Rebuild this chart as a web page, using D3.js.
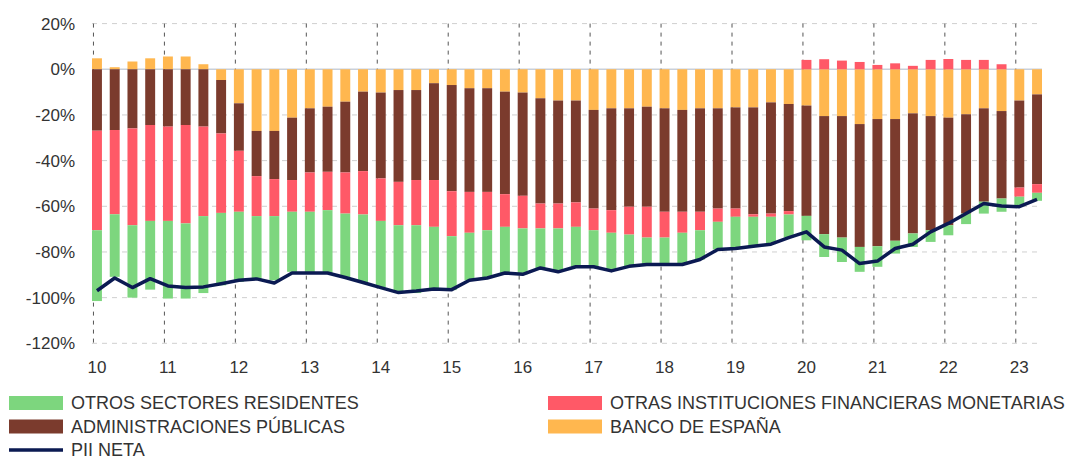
<!DOCTYPE html>
<html>
  <head>
    <meta charset="UTF-8" />
    <title>PII neta por sectores</title>
    <script src="https://d3js.org/d3.v7.min.js"></script>
    <style>
      body { margin: 0; background: #fff; }
      text { font-family: 'Liberation Sans', Arial, sans-serif; fill: #333; }
    </style>
  </head>
  <body>
    <div id="main"></div>
    <script type="text/javascript">
      // quarters 2010 Q1 .. 2023 Q2
      const quarters = d3.range(54).map(i => (10 + Math.floor(i / 4)) + 'Q' + (i % 4 + 1));
      const yearLabels = ['10', '11', '12', '13', '14', '15', '16', '17', '18', '19', '20', '21', '22', '23'];
      const yTicks = [20, 0, -20, -40, -60, -80, -100, -120];

      // % of GDP
      const bde = [4.8, 0.9, 3.4, 4.8, 5.6, 5.6, 2.2, -4.7, -14.9, -27, -27, -21.2, -17.1, -16.4, -14.2, -9.8,
        -10.2, -9.1, -9.1, -6.1, -6.9, -8.3, -8.3, -9.8, -10.2, -12.7, -13.7, -13.7, -17.8, -17.1, -17.1, -16.4,
        -17.1, -17.8, -17.1, -17.1, -16.7, -16.7, -14.5, -15.2, -15.9, -20.5, -20.5, -24, -21.8, -21.8, -19.3, -20.5,
        -21.2, -19.7, -17.1, -18.3, -13.7, -11];
      const aapp = [-26.9, -26.6, -25.9, -24.4, -25.1, -24.4, -25.1, -23.4, -20.8, -19.8, -21.1, -27.3, -28.1, -28.5, -31.0, -34.8,
        -37.6, -40.2, -39.4, -42.4, -46.5, -45.4, -45.4, -44.9, -45.2, -46.1, -45.1, -44.6, -43.2, -44.6, -43.1, -43.8,
        -45.3, -44.6, -45.3, -43.9, -44.3, -46.8, -48.7, -46.9, -48.3, -51.7, -53.2, -53.8, -55.7, -53.3, -52.6, -50.0,
        -47.1, -43.5, -40.9, -38.3, -38.1, -39.3];
      const oifm = [-43.6, -36.9, -42.4, -42.0, -41.3, -43.1, -39.2, -34.8, -26.7, -17.5, -16.2, -13.9, -17.2, -16.8, -18.0, -19.0,
        -18.6, -19.0, -19.8, -20.5, -19.7, -17.9, -16.8, -14.3, -14.3, -10.9, -10.9, -10.7, -9.5, -9.9, -12.2, -13.5,
        -11.3, -9.2, -8.1, -5.8, -3.6, -1.1, -1.4, -1.5, 4.1, 4.4, 3.8, 3.2, 1.9, 2.6, 1.5, 4.1,
        4.5, 4.1, 4.1, 2.2, -4.0, -3.8];
      const osr = [-31.0, -27.4, -31.7, -30.1, -34.0, -32.9, -33.7, -31.7, -30.7, -27.8, -28.1, -26.3, -26.8, -27.5, -28.0, -29.8,
        -29.2, -29.5, -29.7, -27.5, -23.6, -20.8, -20.9, -20.2, -20.1, -17.3, -19.0, -17.5, -16.0, -16.7, -13.9, -11.8,
        -11.8, -13.9, -12.8, -12.1, -13.9, -12.9, -12.0, -10.1, -10.7, -10.0, -10.7, -10.9, -9.0, -5.6, -5.9, -5.1,
        -4.4, -4.6, -5.2, -5.8, -3.7, -3.5];
      const pii = [-97, -91.4, -95.6, -91.7, -94.9, -95.6, -95.3, -93.9, -92.4, -91.8, -93.6, -89.2, -89.2, -89.2, -91.2, -93.4,
        -95.6, -97.8, -97.1, -96.2, -96.5, -92.4, -91.4, -89.2, -89.8, -87, -88.7, -86.5, -86.5, -88.3, -86.3, -85.5,
        -85.5, -85.5, -83.3, -78.9, -78.5, -77.5, -76.6, -73.7, -71.2, -77.8, -79.2, -85.1, -84, -78.5, -76.6, -71.2,
        -67.5, -63.2, -58.8, -59.9, -60.2, -57];

      const keys = ['bde', 'aapp', 'oifm', 'osr'];
      const colors = { bde: '#ffb74f', aapp: '#7b3b2d', oifm: '#ff5967', osr: '#7dd67e' };
      const lineColor = '#0b1a52';

      const width = 1070;
      const height = 458;

      const rows = quarters.map((q, i) => ({ q, bde: bde[i], aapp: aapp[i], oifm: oifm[i], osr: osr[i] }));
      const series = d3.stack().keys(keys).offset(d3.stackOffsetDiverging)(rows);

      const x = d3.scaleBand().domain(quarters).range([88.1, 1045.9]).paddingInner(0.44).paddingOuter(0.22);
      const y = d3.scaleLinear().domain([-120, 20]).range([343.3, 23.6]);
      const cx = q => x(q) + x.bandwidth() / 2;

      const svg = d3.select('div#main').append('svg').attr('width', width).attr('height', height);

      // horizontal grid
      svg.append('g').selectAll('line').data(yTicks).join('line')
        .attr('x1', 92).attr('x2', 1042)
        .attr('y1', d => y(d)).attr('y2', d => y(d))
        .attr('stroke', d => d === 0 ? '#c9d0da' : '#cfcfcf')
        .attr('stroke-width', d => d === 0 ? 1.5 : 1)
        .attr('stroke-dasharray', d => d === 0 ? null : '5,5');

      // vertical year grid
      const yearQ = yearLabels.map(l => l + 'Q1');
      svg.append('g').selectAll('line').data(yearQ).join('line')
        .attr('x1', d => cx(d) - 3.5).attr('x2', d => cx(d) - 3.5)
        .attr('y1', y(20)).attr('y2', y(-120))
        .attr('stroke', '#555').attr('stroke-width', 1).attr('stroke-dasharray', '4,5');

      // bars
      svg.append('g').selectAll('g').data(series).join('g')
        .attr('fill', d => colors[d.key])
        .selectAll('rect').data(d => d).join('rect')
        .attr('x', d => x(d.data.q))
        .attr('width', x.bandwidth())
        .attr('y', d => y(Math.max(d[0], d[1])))
        .attr('height', d => Math.abs(y(d[0]) - y(d[1])));

      // PII neta line
      svg.append('path').datum(pii)
        .attr('fill', 'none').attr('stroke', lineColor).attr('stroke-width', 3.5)
        .attr('stroke-linejoin', 'round')
        .attr('d', d3.line().x((d, i) => cx(quarters[i])).y(d => y(d)));

      // y labels
      svg.append('g').selectAll('text').data(yTicks).join('text')
        .attr('x', 75).attr('y', d => y(d)).attr('dy', '0.35em')
        .attr('text-anchor', 'end').attr('font-size', 17)
        .text(d => d + '%');

      // x labels
      svg.append('g').selectAll('text').data(yearLabels).join('text')
        .attr('x', d => cx(d + 'Q1')).attr('y', 367).attr('dy', '0.35em')
        .attr('text-anchor', 'middle').attr('font-size', 17)
        .text(d => d);

      // legend
      const legendItems = [
        { label: 'OTROS SECTORES RESIDENTES', color: colors.osr, col: 0, row: 0 },
        { label: 'OTRAS INSTITUCIONES FINANCIERAS MONETARIAS', color: colors.oifm, col: 1, row: 0 },
        { label: 'ADMINISTRACIONES PÚBLICAS', color: colors.aapp, col: 0, row: 1 },
        { label: 'BANCO DE ESPAÑA', color: colors.bde, col: 1, row: 1 },
        { label: 'PII NETA', color: lineColor, col: 0, row: 2, line: true }
      ];
      const colX = [9, 548];
      const lg = svg.append('g').selectAll('g').data(legendItems).join('g')
        .attr('transform', d => `translate(${colX[d.col]},${403 + d.row * 23.5})`);
      lg.append('rect')
        .attr('x', 0).attr('width', 54)
        .attr('y', d => d.line ? -1.75 : -7)
        .attr('height', d => d.line ? 3.5 : 14)
        .attr('fill', d => d.color);
      lg.append('text')
        .attr('x', 62).attr('dy', '0.35em').attr('font-size', 18)
        .text(d => d.label);
    </script>
  </body>
</html>
